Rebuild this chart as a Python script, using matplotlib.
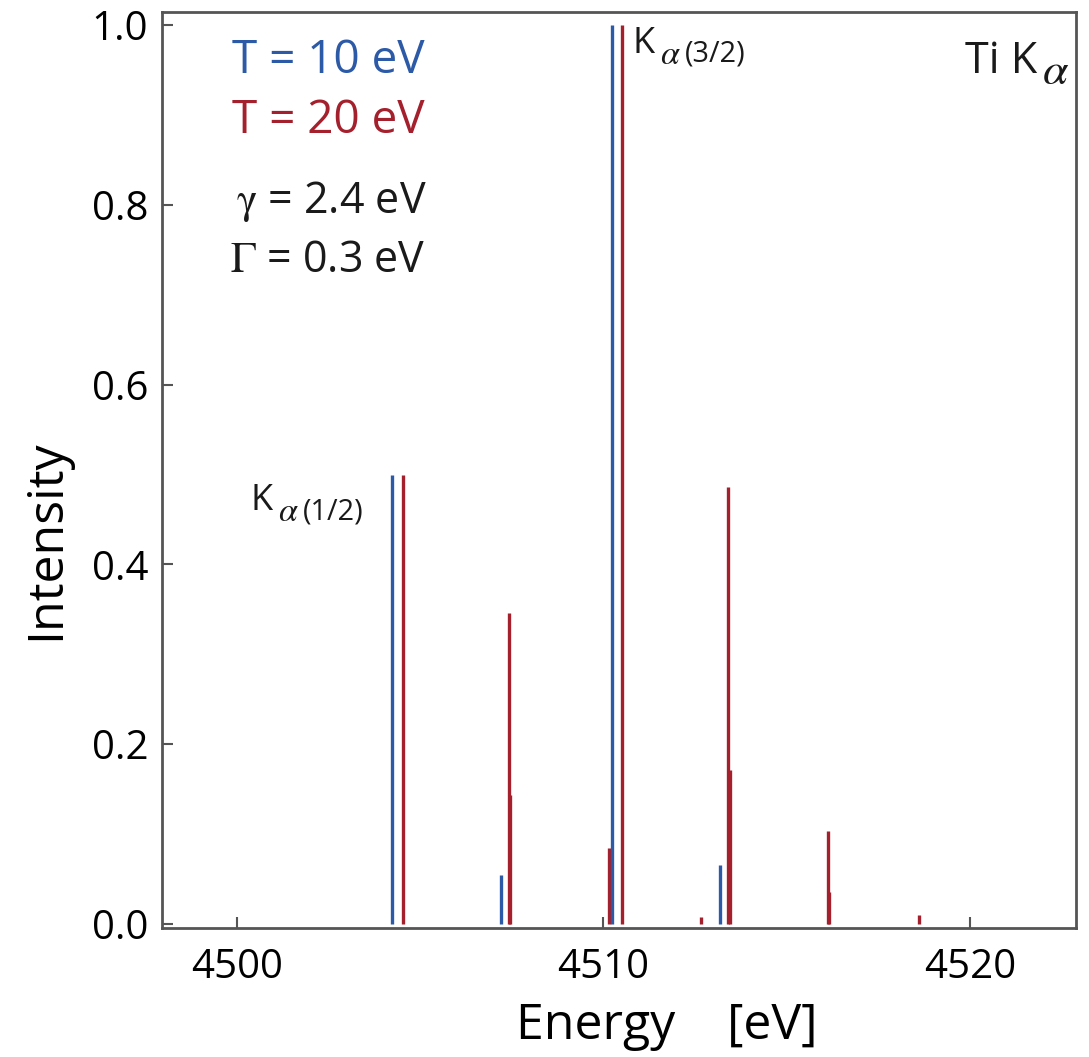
import matplotlib
matplotlib.use("Agg")
import matplotlib.pyplot as plt

# Ti K-alpha line positions (eV) and relative intensities
blue_energy = [4504.24, 4507.19, 4510.23, 4513.18]
blue_intensity = [0.5, 0.054, 1.0, 0.066]

red_energy = [4504.53, 4507.41, 4507.46, 4510.15, 4510.51, 4512.67,
              4513.40, 4513.45, 4516.14, 4516.17, 4518.62]
red_intensity = [0.5, 0.346, 0.143, 0.085, 1.0, 0.008,
                 0.486, 0.171, 0.103, 0.036, 0.010]

x_ticks = [4500, 4510, 4520]
y_ticks = [0.0, 0.2, 0.4, 0.6, 0.8, 1.0]

BLUE = "#2c5aa6"
RED = "#a3202c"
SPINE = "#555555"
INK = "#1a1a1a"

W, H = 1089, 1057

plt.rcParams["font.family"] = ["Open Sans", "DejaVu Sans"]
plt.rcParams["mathtext.fontset"] = "stix"

fig = plt.figure(figsize=(W / 100, H / 100), dpi=100)
ax = fig.add_axes([0.1488, 0.1220, 0.8393, 0.8666])

ax.vlines(red_energy, 0, red_intensity, color=RED, lw=2.4)
ax.vlines(blue_energy, 0, blue_intensity, color=BLUE, lw=2.4)

ax.set_xlim(4497.95, 4522.9)
ax.set_ylim(-0.0045, 1.0145)
ax.set_xticks(x_ticks)
ax.set_yticks(y_ticks)
ax.set_yticklabels([f"{v:.1f}" for v in y_ticks])
ax.tick_params(direction="in", length=8, width=1.5, color=SPINE,
               labelsize=29, pad=10)
ax.tick_params(axis="x", pad=14)
for s in ax.spines.values():
    s.set_color(SPINE)
    s.set_linewidth(2)

ax.set_xlabel("Energy    [eV]", fontsize=36)
ax.xaxis.set_label_coords(0.5525, -0.080)
ax.set_ylabel("Intensity", fontsize=36)
ax.yaxis.set_label_coords(-0.100, 0.4236)


def put(px, py, s, **kw):
    """Place text with its left baseline at a pixel location."""
    fig.text(px / W, 1 - py / H, s, va="baseline", ha="left", **kw)


# temperature / width annotations
put(232, 73, "T = 10 eV", color=BLUE, fontsize=33)
put(232, 133, "T = 20 eV", color=RED, fontsize=33)
put(236, 213, r"$\mathrm{\gamma}$ = 2.4 eV", color=INK, fontsize=31)
put(230, 272, r"$\Gamma$ = 0.3 eV", color=INK, fontsize=31)


def k_label(px, py, sub, size=26):
    put(px, py, "K", color=INK, fontsize=size)
    put(px + 28, py + 11, r"$\alpha$", color=INK, fontsize=size * 0.95)
    put(px + 53, py + 9, sub, color=INK, fontsize=size * 0.8)


k_label(250, 510, "(1/2)")
k_label(632, 53, "(3/2)")

# element label
put(965, 73, "Ti K", color=INK, fontsize=31)
put(1042, 84, r"$\alpha$", color=INK, fontsize=33)

fig.savefig("out.png", dpi=100)
